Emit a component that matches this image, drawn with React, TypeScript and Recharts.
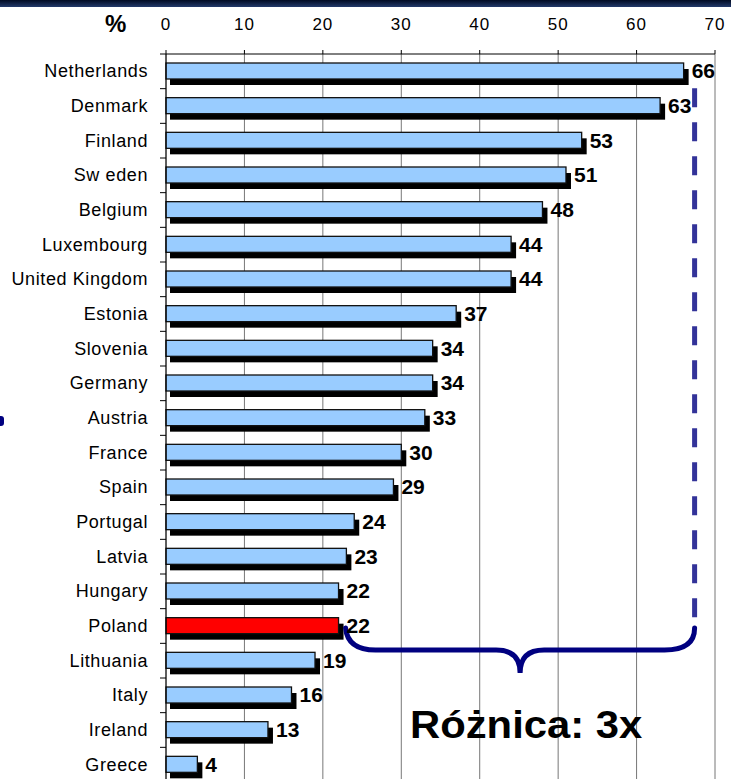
import React from "react";
import {
  BarChart,
  Bar,
  XAxis,
  YAxis,
  CartesianGrid,
  LabelList,
  ReferenceLine,
} from "recharts";

// share of population, %
const countries = [
  "Netherlands",
  "Denmark",
  "Finland",
  "Sw eden",
  "Belgium",
  "Luxembourg",
  "United Kingdom",
  "Estonia",
  "Slovenia",
  "Germany",
  "Austria",
  "France",
  "Spain",
  "Portugal",
  "Latvia",
  "Hungary",
  "Poland",
  "Lithuania",
  "Italy",
  "Ireland",
  "Greece",
];
const values = [66, 63, 53, 51, 48, 44, 44, 37, 34, 34, 33, 30, 29, 24, 23, 22, 22, 19, 16, 13, 4];
const xTicks = [0, 10, 20, 30, 40, 50, 60, 70];
const highlight = "Poland";
// brace spans from just past Poland's bar to the top value
const braceFrom = 22.9;
const braceTo = 67.4;

const rows = countries.map((country, i) => ({ country, value: values[i] }));

const CHART_W = 731;
const CHART_H = 782;
const PLOT_LEFT = 166;
const HALF_BAND = (CHART_H - 54) / countries.length / 2;

/** light-blue bar with a black drop shadow, Excel style */
function ShadowBar(props: any) {
  const { x, y, width, height, payload } = props;
  const fill = payload.country === highlight ? "#FF0000" : "#99CCFF";
  return (
    <g>
      <rect x={x + 4} y={y + 6} width={width + 1} height={height} fill="#000" />
      <rect x={x} y={y} width={width} height={height} fill={fill} stroke="#111" strokeWidth={1.3} />
    </g>
  );
}

/** category label + tick mark sitting on the band boundary */
function CountryTick(props: any) {
  const { x, y, payload } = props;
  const by = y - HALF_BAND;
  return (
    <g>
      <line x1={PLOT_LEFT - 6} x2={PLOT_LEFT} y1={by} y2={by} stroke="#000" />
      <text x={x} y={y} dy={6} textAnchor="end" fontSize={18} fill="#000" style={{ letterSpacing: 0.6 }}>
        {payload.value}
      </text>
    </g>
  );
}

function DashedGuide(props: any) {
  const { x1, y1, y2 } = props;
  return (
    <line
      x1={x1}
      x2={x1}
      y1={y1 + 17}
      y2={y2}
      stroke="#333399"
      strokeWidth={5}
      strokeDasharray="19 15"
    />
  );
}

function Brace(props: any) {
  const { x1, x2, y1 } = props;
  const L = x1;
  const R = x2;
  const M = (L + R) / 2;
  const h = y1 + 24;
  const tip = y1 + 47;
  const d = [
    `M ${L} ${y1 + 2}`,
    `Q ${L + 2} ${h} ${L + 30} ${h}`,
    `L ${M - 24} ${h}`,
    `Q ${M} ${h} ${M} ${tip}`,
    `Q ${M} ${h} ${M + 24} ${h}`,
    `L ${R - 30} ${h}`,
    `Q ${R} ${h} ${R} ${y1 + 2}`,
  ].join(" ");
  return <path d={d} fill="none" stroke="#000080" strokeWidth={5} strokeLinecap="round" />;
}

export default function App() {
  return (
    <div
      style={{
        position: "absolute",
        left: 0,
        top: 0,
        width: CHART_W,
        height: 779,
        overflow: "hidden",
        background: "#fff",
        fontFamily: "'Liberation Sans', Arial, sans-serif",
      }}
    >
      <div
        style={{
          position: "absolute",
          left: 0,
          top: 0,
          width: CHART_W,
          height: 7,
          background: "linear-gradient(#000a22, #22396a)",
        }}
      />
      <div
        style={{
          position: "absolute",
          left: 0,
          top: 416,
          width: 4,
          height: 10,
          background: "#000080",
          borderRadius: "0 3px 3px 0",
        }}
      />
      <div
        style={{
          position: "absolute",
          left: 105,
          top: 12,
          fontSize: 24,
          fontWeight: "bold",
          lineHeight: "24px",
        }}
      >
        %
      </div>
      <BarChart
        layout="vertical"
        width={CHART_W}
        height={CHART_H}
        data={rows}
        margin={{ top: 8, right: 16, bottom: 0, left: 0 }}
      >
        <CartesianGrid horizontal={false} stroke="#777" />
        <XAxis
          type="number"
          orientation="top"
          domain={[0, 70]}
          ticks={xTicks}
          height={46}
          tickSize={4}
          tickMargin={20}
          axisLine={{ stroke: "#000" }}
          tickLine={{ stroke: "#000" }}
          tick={{ fontSize: 17, fill: "#000", style: { letterSpacing: 1 } }}
          interval={0}
        />
        <YAxis
          type="category"
          dataKey="country"
          width={PLOT_LEFT}
          tickSize={0}
          tickMargin={18}
          tickLine={false}
          axisLine={{ stroke: "#000" }}
          tick={<CountryTick />}
          interval={0}
        />
        <Bar dataKey="value" barSize={16} shape={<ShadowBar />} isAnimationActive={false}>
          <LabelList
            dataKey="value"
            position="right"
            offset={8}
            fill="#000"
            fontSize={21}
            fontWeight="bold"
          />
        </Bar>
        <ReferenceLine
          segment={[
            { x: braceTo, y: countries[0] },
            { x: braceTo, y: highlight },
          ]}
          shape={<DashedGuide />}
        />
        <ReferenceLine
          segment={[
            { x: braceFrom, y: highlight },
            { x: braceTo, y: highlight },
          ]}
          shape={<Brace />}
        />
      </BarChart>
      <div
        style={{
          position: "absolute",
          left: 410,
          top: 706,
          fontSize: 38,
          fontWeight: "bold",
          lineHeight: "38px",
          whiteSpace: "nowrap",
          transform: "scaleX(1.1)",
          transformOrigin: "left top",
        }}
      >
        Różnica: 3x
      </div>
    </div>
  );
}
